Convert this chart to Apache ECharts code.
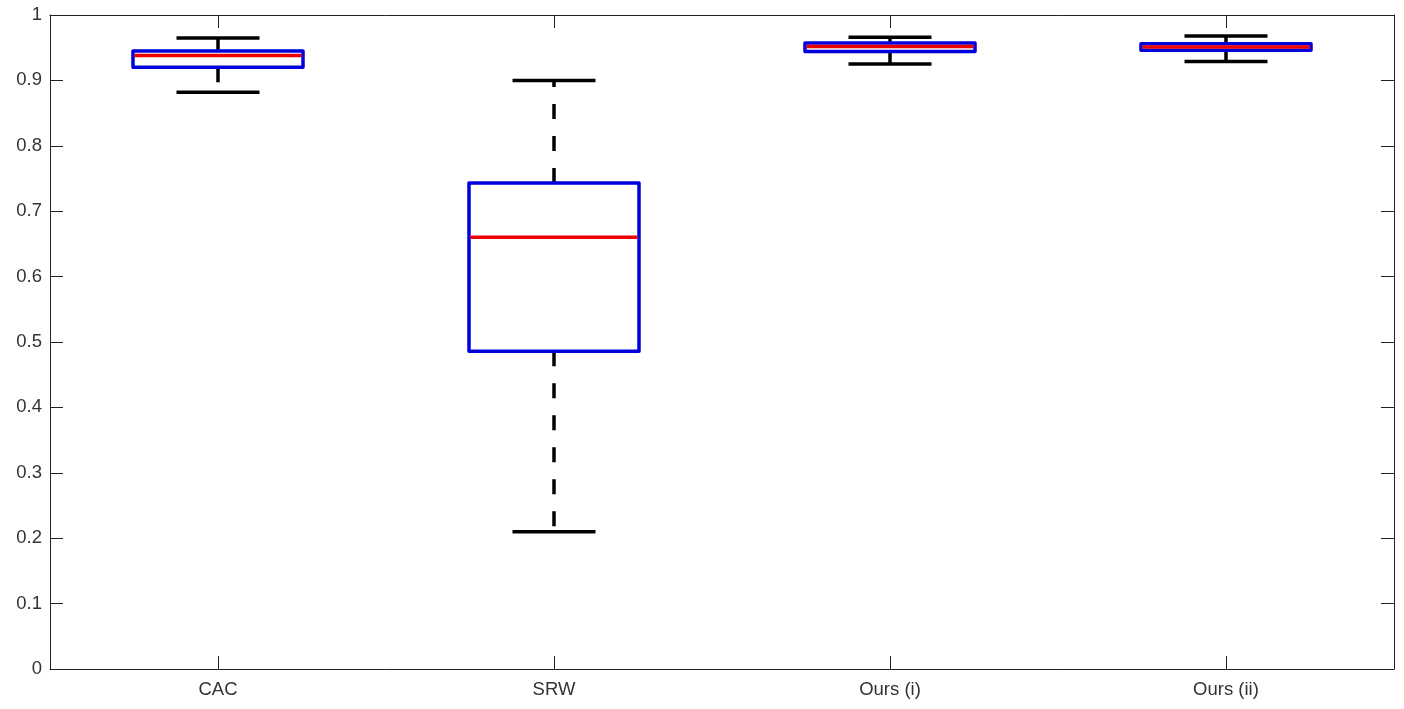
<!DOCTYPE html>
<html>
<head>
<meta charset="utf-8">
<script src="https://cdn.jsdelivr.net/npm/echarts@6/dist/echarts.min.js"></script>
<style>
html,body{margin:0;padding:0;background:#fff;}
#chart{width:1404px;height:709px;}
</style>
</head>
<body>
<div id="chart"></div>
<script>
var categories = ['CAC', 'SRW', 'Ours (i)', 'Ours (ii)'];
var lowerWhisker = [0.882, 0.210, 0.925, 0.929];
var q1 = [0.920, 0.486, 0.944, 0.946];
var median = [0.938, 0.660, 0.952, 0.951];
var q3 = [0.945, 0.743, 0.957, 0.956];
var upperWhisker = [0.965, 0.900, 0.966, 0.968];
var yTicks = [0, 0.1, 0.2, 0.3, 0.4, 0.5, 0.6, 0.7, 0.8, 0.9, 1];

var data = categories.map(function (c, i) {
  return [i, lowerWhisker[i], q1[i], median[i], q3[i], upperWhisker[i]];
});

var textColor = '#333333';
var fontFamily = 'Liberation Sans, Arial, Helvetica, sans-serif';
var fontSize = 18.5;

function renderItem(params, api) {
  var idx = api.value(0);
  var bandW = api.size([1, 0])[0];
  var boxW = bandW * 0.506;
  var capW = bandW * 0.247;
  var pLow = api.coord([idx, api.value(1)]);
  var pQ1 = api.coord([idx, api.value(2)]);
  var pMed = api.coord([idx, api.value(3)]);
  var pQ3 = api.coord([idx, api.value(4)]);
  var pHigh = api.coord([idx, api.value(5)]);
  var x = pQ1[0];
  var lw = 3.5;
  var dash = {stroke: '#000', lineWidth: lw, lineDash: [15, 17], lineCap: 'butt'};
  var solid = {stroke: '#000', lineWidth: lw};
  return {
    type: 'group',
    children: [
      {type: 'line', shape: {x1: x, y1: pQ3[1], x2: x, y2: pHigh[1]}, style: dash},
      {type: 'line', shape: {x1: x, y1: pQ1[1], x2: x, y2: pLow[1]}, style: dash},
      {type: 'line', shape: {x1: x - capW / 2, y1: pHigh[1], x2: x + capW / 2, y2: pHigh[1]}, style: solid},
      {type: 'line', shape: {x1: x - capW / 2, y1: pLow[1], x2: x + capW / 2, y2: pLow[1]}, style: solid},
      {type: 'rect', shape: {x: x - boxW / 2, y: pQ3[1], width: boxW, height: pQ1[1] - pQ3[1]},
        style: {fill: '#fff', stroke: '#0000dd', lineWidth: lw, lineJoin: 'round'}},
      {type: 'line', shape: {x1: x - boxW / 2 + 1.5, y1: pMed[1], x2: x + boxW / 2 - 1.5, y2: pMed[1]},
        style: {stroke: '#ee0000', lineWidth: lw}}
    ]
  };
}

var chart = echarts.init(document.getElementById('chart'), null, {renderer: 'canvas'});
chart.setOption({
  backgroundColor: '#ffffff',
  animation: false,
  grid: {left: 50, right: 10, top: 15, bottom: 40, containLabel: false},
  xAxis: [{
    type: 'category',
    data: categories,
    boundaryGap: true,
    axisLine: {show: true, onZero: false, lineStyle: {color: '#222', width: 1}},
    axisTick: {show: true, inside: true, alignWithLabel: true, length: 13, lineStyle: {color: '#222'}},
    axisLabel: {color: textColor, fontSize: fontSize, fontFamily: fontFamily, margin: 11},
    splitLine: {show: false}
  }, {
    type: 'category',
    data: categories,
    position: 'top',
    boundaryGap: true,
    axisLine: {show: true, onZero: false, lineStyle: {color: '#222', width: 1}},
    axisTick: {show: true, inside: true, alignWithLabel: true, length: 13, lineStyle: {color: '#222'}},
    axisLabel: {show: false},
    splitLine: {show: false}
  }],
  yAxis: [{
    type: 'value',
    min: 0, max: 1, interval: 0.1,
    axisLine: {show: true, lineStyle: {color: '#222', width: 1}},
    axisTick: {show: true, inside: true, length: 13, lineStyle: {color: '#222'}},
    axisLabel: {color: textColor, fontSize: fontSize, fontFamily: fontFamily, margin: 8,
      formatter: function (v) { return String(Math.round(v * 10) / 10); }},
    splitLine: {show: false}
  }, {
    type: 'value',
    position: 'right',
    min: 0, max: 1, interval: 0.1,
    axisLine: {show: true, lineStyle: {color: '#222', width: 1}},
    axisTick: {show: true, inside: true, length: 13, lineStyle: {color: '#222'}},
    axisLabel: {show: false},
    splitLine: {show: false}
  }],
  series: [{
    type: 'custom',
    xAxisIndex: 0,
    yAxisIndex: 0,
    renderItem: renderItem,
    encode: {x: 0, y: [1, 2, 3, 4, 5]},
    data: data,
    clip: false,
    z: 10
  }]
});
</script>
</body>
</html>
